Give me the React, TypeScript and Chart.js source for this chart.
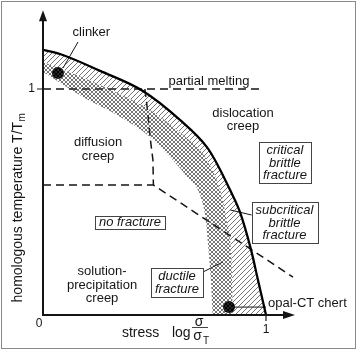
import React, { useEffect, useRef } from "react";
import { Chart, registerables } from "chart.js";

Chart.register(...registerables);

// x = log(σ/σT), y = T/Tm
const outerX = [0, 0.076, 0.256, 0.448, 0.614, 0.735, 0.771, 0.839, 0.883, 0.933, 0.964, 1.0];
const outerY = [1.173, 1.155, 1.08, 0.991, 0.863, 0.743, 0.686, 0.553, 0.456, 0.288, 0.155, 0];

const midX = [0, 0.256, 0.48, 0.628, 0.735, 0.794, 0.823, 0.845, 0.852, 1.0];
const midY = [1.119, 1.018, 0.907, 0.796, 0.686, 0.553, 0.42, 0.243, 0, 0];

const innerX = [0, 0.179, 0.332, 0.48, 0.57, 0.646, 0.704, 0.73, 0.742, 0.753, 0.762, 1.0];
const innerY = [1.075, 0.965, 0.885, 0.788, 0.699, 0.611, 0.531, 0.42, 0.288, 0.155, 0, 0];

const meltX = [0, 0.97];
const meltY = [1, 1];

const splitX = [0.457, 0.47, 0.48, 0.493, 0.495];
const splitY = [1.0, 0.894, 0.788, 0.686, 0.575];

const fracX = [0, 0.495, 1.121];
const fracY = [0.575, 0.575, 0.168];

const sampleNames = ["clinker", "opal-CT chert"];
const sampleX = [0.067, 0.834];
const sampleY = [1.071, 0.035];

const leaderClinkerX = [0.09, 0.157];
const leaderClinkerY = [1.093, 1.208];
const leaderOpalX = [0.834, 1.0];
const leaderOpalY = [0.035, 0.035];
const leaderSubX = [0.839, 0.937];
const leaderSubY = [0.465, 0.442];
const leaderDuctX = [0.717, 0.807];
const leaderDuctY = [0.19, 0.235];

const X_MAX = 1.2;
const Y_MAX = 1.35;
const X_ARROW = 1.13;
const Y_ARROW = 1.349;

const plainLabels = [
  { lines: ["clinker"], x: 0.217, y: 1.252, align: "center" },
  { lines: ["partial melting"], x: 0.744, y: 1.035, align: "center" },
  { lines: ["dislocation", "creep"], x: 0.897, y: 0.863, align: "center" },
  { lines: ["diffusion", "creep"], x: 0.247, y: 0.732, align: "center" },
  { lines: ["solution-", "precipitation", "creep"], x: 0.265, y: 0.133, align: "center" },
  { lines: ["opal-CT chert"], x: 1.009, y: 0.053, align: "left" },
];

const boxedLabels = [
  { lines: ["no fracture"], x: 0.39, y: 0.412 },
  { lines: ["critical", "brittle", "fracture"], x: 1.085, y: 0.675 },
  { lines: ["subcritical", "brittle", "fracture"], x: 1.083, y: 0.409 },
  { lines: ["ductile", "fracture"], x: 0.601, y: 0.144 },
];

const FONT = "'Liberation Sans', Arial, Helvetica, sans-serif";
const INK = "#151515";

const pts = (xs: number[], ys: number[]) => xs.map((x, i) => ({ x, y: ys[i] }));

function hatch(cross: boolean): CanvasPattern | string {
  const s = cross ? 4 : 5;
  const c = document.createElement("canvas");
  c.width = s;
  c.height = s;
  const g = c.getContext("2d");
  if (!g) return "#bbb";
  g.strokeStyle = cross ? "#3a3a3a" : "#3a3a3a";
  g.lineWidth = cross ? 0.7 : 0.7;
  g.beginPath();
  g.moveTo(-1, s + 1);
  g.lineTo(s + 1, -1);
  g.moveTo(-1, 1);
  g.lineTo(1, -1);
  g.moveTo(s - 1, s + 1);
  g.lineTo(s + 1, s - 1);
  if (cross) {
    g.moveTo(-1, -1);
    g.lineTo(s + 1, s + 1);
    g.moveTo(s - 1, -1);
    g.lineTo(s + 1, 1);
    g.moveTo(-1, s - 1);
    g.lineTo(1, s + 1);
  }
  g.stroke();
  return g.createPattern(c, "repeat") || "#bbb";
}

const annotPlugin = {
  id: "annot",
  afterDraw(chart: any) {
    const { ctx } = chart;
    const xs = chart.scales.x;
    const ys = chart.scales.y;
    const X = (v: number) => xs.getPixelForValue(v);
    const Y = (v: number) => ys.getPixelForValue(v);
    const ox = X(0);
    const oy = Y(0);
    ctx.save();
    ctx.strokeStyle = INK;
    ctx.fillStyle = INK;
    ctx.lineWidth = 2;
    // y axis with arrow
    const yTip = Y(Y_ARROW);
    ctx.beginPath();
    ctx.moveTo(ox, oy + 1);
    ctx.lineTo(ox, yTip + 8);
    ctx.stroke();
    ctx.beginPath();
    ctx.moveTo(ox, yTip);
    ctx.lineTo(ox - 4, yTip + 11);
    ctx.lineTo(ox + 4, yTip + 11);
    ctx.closePath();
    ctx.fill();
    // x axis with arrow
    const xTip = X(X_ARROW);
    ctx.beginPath();
    ctx.moveTo(ox - 1, oy);
    ctx.lineTo(xTip - 8, oy);
    ctx.stroke();
    ctx.beginPath();
    ctx.moveTo(xTip, oy);
    ctx.lineTo(xTip - 12, oy - 4);
    ctx.lineTo(xTip - 12, oy + 4);
    ctx.closePath();
    ctx.fill();
    // ticks
    ctx.lineWidth = 1.2;
    ctx.beginPath();
    ctx.moveTo(ox - 6, Y(1));
    ctx.lineTo(ox, Y(1));
    ctx.moveTo(X(1), oy);
    ctx.lineTo(X(1), oy + 6);
    ctx.stroke();
    ctx.font = `12px ${FONT}`;
    ctx.textBaseline = "middle";
    ctx.textAlign = "right";
    ctx.fillText("1", ox - 8, Y(1));
    ctx.textAlign = "center";
    ctx.fillText("1", X(1), oy + 15);
    ctx.fillText("0", ox - 4, oy + 9);

    // plain labels
    ctx.font = `13px ${FONT}`;
    for (const l of plainLabels) {
      ctx.textAlign = l.align as CanvasTextAlign;
      const n = l.lines.length;
      l.lines.forEach((t, i) => ctx.fillText(t, X(l.x), Y(l.y) + (i - (n - 1) / 2) * 13.5));
    }
    // boxed italic labels
    ctx.font = `italic 13px ${FONT}`;
    ctx.textAlign = "center";
    for (const l of boxedLabels) {
      const n = l.lines.length;
      const w = Math.max(...l.lines.map((t) => ctx.measureText(t).width)) + 8;
      const h = n > 1 ? n * 12.8 + 3 : 12.5;
      const cx = X(l.x);
      const cy = Y(l.y);
      ctx.fillStyle = "#fff";
      ctx.fillRect(cx - w / 2, cy - h / 2, w, h);
      ctx.strokeStyle = "#444";
      ctx.lineWidth = 1;
      ctx.strokeRect(Math.round(cx - w / 2) + 0.5, Math.round(cy - h / 2) + 0.5, Math.round(w), Math.round(h));
      ctx.fillStyle = INK;
      l.lines.forEach((t, i) => ctx.fillText(t, cx, cy + 0.5 + (i - (n - 1) / 2) * 12.8));
    }

    // y axis title
    ctx.save();
    ctx.translate(ox - 25, oy - 107);
    ctx.rotate(-Math.PI / 2);
    ctx.font = `14px ${FONT}`;
    const main = "homologous temperature T/T";
    const wMain = ctx.measureText(main).width;
    ctx.font = `10px ${FONT}`;
    const wSub = ctx.measureText("m").width;
    const start = -(wMain + wSub) / 2;
    ctx.textAlign = "left";
    ctx.font = `14px ${FONT}`;
    ctx.fillText(main, start, 0);
    ctx.font = `10px ${FONT}`;
    ctx.fillText("m", start + wMain + 0.5, 4);
    ctx.restore();

    // x axis title
    ctx.font = `14px ${FONT}`;
    ctx.textAlign = "left";
    ctx.fillText("stress", X(0.354), oy + 18);
    ctx.fillText("log", X(0.578), oy + 18);
    const fx = X(0.704);
    ctx.textAlign = "center";
    ctx.fillText("σ", fx - 1, oy + 7.5);
    ctx.lineWidth = 1;
    ctx.beginPath();
    ctx.moveTo(fx - 8, oy + 12.5);
    ctx.lineTo(fx + 8, oy + 12.5);
    ctx.stroke();
    ctx.fillText("σ", fx - 2.5, oy + 21);
    ctx.font = `10px ${FONT}`;
    ctx.textAlign = "left";
    ctx.fillText("T", fx + 3, oy + 26);
    ctx.restore();
  },
};

export default function App() {
  const ref = useRef<HTMLCanvasElement | null>(null);
  useEffect(() => {
    if (!ref.current) return;
    const diag = hatch(false);
    const cross = hatch(true);
    const lineBase = { pointRadius: 0, pointHoverRadius: 0, tension: 0 };
    const dashed = { ...lineBase, borderColor: INK, borderWidth: 1.5, borderDash: [8, 5], fill: false };
    const leader = { ...lineBase, borderColor: INK, borderWidth: 1, fill: false };
    const chart = new Chart(ref.current, {
      type: "line",
      data: {
        datasets: [
          {
            label: "outer",
            data: pts(outerX, outerY),
            ...lineBase,
            cubicInterpolationMode: "monotone",
            borderColor: "#000",
            borderWidth: 2.3,
            backgroundColor: diag as any,
            fill: 1,
          },
          {
            label: "mid",
            data: pts(midX, midY),
            ...lineBase,
            cubicInterpolationMode: "monotone",
            borderColor: "rgba(0,0,0,0)",
            borderWidth: 0,
            backgroundColor: cross as any,
            fill: 2,
          },
          {
            label: "inner",
            data: pts(innerX, innerY),
            ...lineBase,
            cubicInterpolationMode: "monotone",
            borderColor: "rgba(0,0,0,0)",
            borderWidth: 0,
            fill: false,
          },
          { label: "melt", data: pts(meltX, meltY), ...dashed },
          { label: "split", data: pts(splitX, splitY), ...dashed },
          { label: "frac", data: pts(fracX, fracY), ...dashed },
          { label: "l1", data: pts(leaderClinkerX, leaderClinkerY), ...leader },
          { label: "l2", data: pts(leaderOpalX, leaderOpalY), ...leader },
          { label: "l3", data: pts(leaderSubX, leaderSubY), ...leader },
          { label: "l4", data: pts(leaderDuctX, leaderDuctY), ...leader },
          {
            label: sampleNames.join(", "),
            data: pts(sampleX, sampleY),
            showLine: false,
            pointRadius: 6,
            pointHoverRadius: 6,
            pointBackgroundColor: "#000",
            pointBorderColor: "#000",
            pointBorderWidth: 0,
            fill: false,
          },
        ] as any,
      },
      options: {
        animation: false,
        responsive: true,
        maintainAspectRatio: false,
        events: [],
        layout: {
          padding: {
            left: 43,
            right: 360 - (43 + X_MAX * 223),
            top: 315 - Y_MAX * 226,
            bottom: 36,
          },
        },
        scales: {
          x: { type: "linear", min: 0, max: X_MAX, display: false },
          y: { type: "linear", min: 0, max: Y_MAX, display: false },
        },
        plugins: {
          legend: { display: false },
          tooltip: { enabled: false },
        },
      },
      plugins: [annotPlugin],
    });
    return () => chart.destroy();
  }, []);

  return (
    <div style={{ position: "fixed", left: 0, top: 0, width: 360, height: 351, background: "#fff" }}>
      <div
        style={{
          position: "absolute",
          left: 1,
          top: 1,
          width: 355,
          height: 348,
          border: "1px solid #8a8a8a",
          boxSizing: "border-box",
        }}
      />
      <div style={{ position: "absolute", left: 0, top: 0, width: 360, height: 351 }}>
        <canvas ref={ref} />
      </div>
    </div>
  );
}
